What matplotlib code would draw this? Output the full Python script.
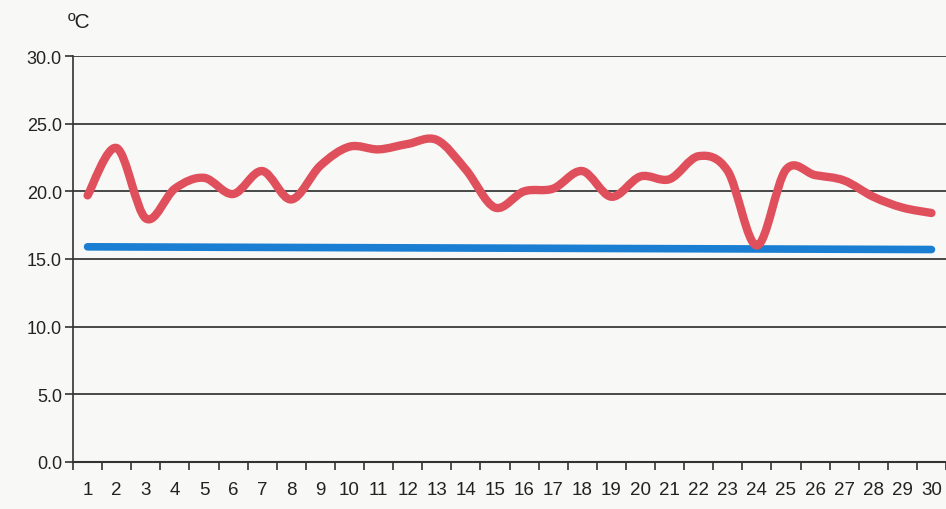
import matplotlib.pyplot as plt
import numpy as np
from matplotlib.path import Path
from matplotlib.patches import PathPatch

plt.rcParams['font.family'] = ['Liberation Sans', 'DejaVu Sans']

days = list(range(1, 31))
temp = [19.7, 23.2, 18.0, 20.2, 21.0, 19.8, 21.5, 19.4, 21.9, 23.3,
        23.1, 23.5, 23.8, 21.6, 18.8, 20.0, 20.2, 21.5, 19.6, 21.1,
        20.9, 22.6, 21.5, 16.0, 21.6, 21.2, 20.8, 19.6, 18.8, 18.4]
limit_days = [1, 30]
limit_vals = [15.9, 15.7]
yticks = [0, 5, 10, 15, 20, 25, 30]

fig = plt.figure(figsize=(9.46, 5.10), dpi=100)
fig.patch.set_facecolor('#f8f8f6')
ax = fig.add_axes([0.0772, 0.0922, 0.9228, 0.7960])
ax.set_facecolor('#f8f8f6')

# smoothed line like excel (catmull-rom -> bezier), drawn in data coords
x = np.array(days, dtype=float)
y = np.array(temp)
verts = [(x[0], y[0])]
codes = [Path.MOVETO]
t = 1 / 6
for i in range(len(x) - 1):
    p0 = (x[max(i - 1, 0)], y[max(i - 1, 0)])
    p1 = (x[i], y[i])
    p2 = (x[i + 1], y[i + 1])
    p3 = (x[min(i + 2, len(x) - 1)], y[min(i + 2, len(x) - 1)])
    c1 = (p1[0] + (p2[0] - p0[0]) * t, p1[1] + (p2[1] - p0[1]) * t)
    c2 = (p2[0] - (p3[0] - p1[0]) * t, p2[1] - (p3[1] - p1[1]) * t)
    verts += [c1, c2, p2]
    codes += [Path.CURVE4] * 3
ax.add_patch(PathPatch(Path(verts, codes), fill=False, edgecolor='#e0505c',
                       lw=6, capstyle='round', joinstyle='round', zorder=4))

ax.plot(limit_days, limit_vals, color='#1a7fd2', lw=5.5,
        solid_capstyle='round', zorder=3)

ax.set_xlim(0.5, 30.5)
ax.set_ylim(0, 30)
ax.set_yticks(yticks)
ax.set_yticklabels(['%.1f' % v for v in yticks], fontsize=13, color='#222')
ax.yaxis.grid(True, color='#3a3a3a', lw=1.3)
ax.set_axisbelow(True)

ax.set_xticks(np.arange(0.5, 31, 1))
ax.set_xticklabels([])
ax.set_xticks(days, minor=True)
ax.set_xticklabels([str(d) for d in days], minor=True, fontsize=13.5, color='#222')
ax.tick_params(axis='x', which='major', length=6, color='#333', width=1.2, direction='out')
ax.tick_params(axis='x', which='minor', length=0, pad=14)
ax.tick_params(axis='y', length=6, color='#333', width=1.2, pad=2)

for s in ['top', 'right']:
    ax.spines[s].set_visible(False)
ax.spines['left'].set_color('#333')
ax.spines['left'].set_linewidth(1.2)
ax.spines['bottom'].set_color('#333')
ax.spines['bottom'].set_linewidth(1.5)

fig.text(0.072, 0.955, 'ºC', fontsize=15, color='#222', ha='left', va='center')

fig.savefig('out.png', dpi=100, facecolor=fig.get_facecolor())
